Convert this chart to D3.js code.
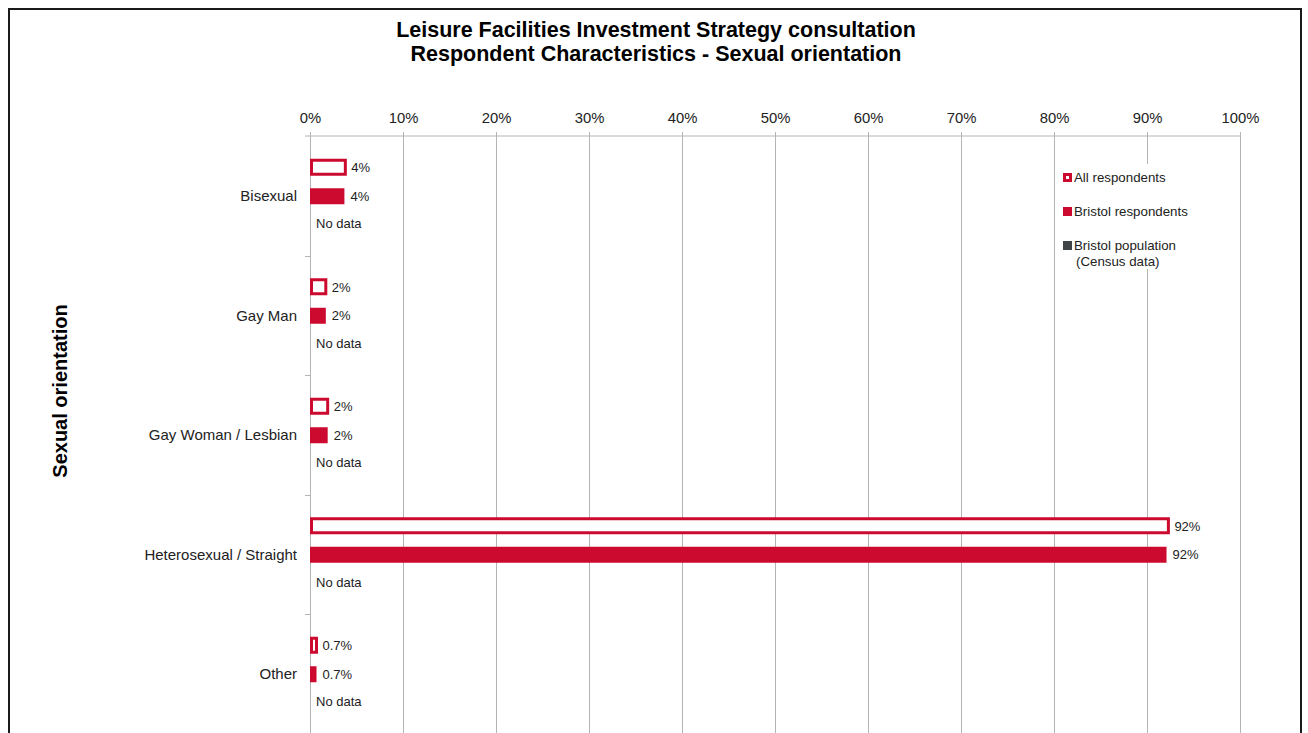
<!DOCTYPE html>
<html>
<head>
<meta charset="utf-8">
<script src="https://cdn.jsdelivr.net/npm/d3@7"></script>
<style>
  body { margin: 0; background: #fff; }
  text { font-family: "Liberation Sans", Arial, sans-serif; }
</style>
</head>
<body>
<svg id="chart" width="1308" height="733"></svg>
<script>
const svg = d3.select('#chart');

// data
const categories = ['Bisexual', 'Gay Man', 'Gay Woman / Lesbian', 'Heterosexual / Straight', 'Other'];
const allRespondents = [3.8, 1.7, 1.9, 92.3, 0.7];
const bristolRespondents = [3.7, 1.7, 1.9, 92.1, 0.7];
const bristolPopulation = [null, null, null, null, null]; // no census data
const seriesNames = ['All respondents', 'Bristol respondents', 'Bristol population\n(Census data)'];
const xTicks = [0, 10, 20, 30, 40, 50, 60, 70, 80, 90, 100];

const red = '#cc0a2f';
const grey = '#404447';

const margin = { top: 136, left: 310, right: 68, bottom: 0 };
const innerWidth = 1240 - margin.left;
const innerHeight = 733.5 - margin.top;

// outer frame
svg.append('rect')
  .attr('x', 9).attr('y', 9)
  .attr('width', 1292).attr('height', 760)
  .attr('fill', 'none')
  .attr('stroke', '#1a1a1a')
  .attr('stroke-width', 2);

// titles
svg.append('text')
  .attr('x', 656).attr('y', 37)
  .attr('text-anchor', 'middle')
  .style('font-size', '21.5px').style('font-weight', 'bold')
  .text('Leisure Facilities Investment Strategy consultation');
svg.append('text')
  .attr('x', 656).attr('y', 61)
  .attr('text-anchor', 'middle')
  .style('font-size', '21.5px').style('font-weight', 'bold')
  .text('Respondent Characteristics - Sexual orientation');

svg.append('text')
  .attr('transform', 'translate(67,391) rotate(-90)')
  .attr('text-anchor', 'middle')
  .style('font-size', '20px').style('font-weight', 'bold')
  .text('Sexual orientation');

const g = svg.append('g')
  .attr('transform', `translate(${margin.left},${margin.top})`);

const xScale = d3.scaleLinear().domain([0, 100]).range([0, innerWidth]);
const yScale = d3.scaleBand().domain(categories).range([0, innerHeight]);
// three slots per category: all, bristol, population
const slot = d3.scaleBand().domain([0, 1, 2]).range([-42, 42]);

// grid + top axis
const xAxis = d3.axisTop(xScale)
  .tickValues(xTicks)
  .tickFormat(d => d + '%')
  .tickSize(-innerHeight - 4)
  .tickSizeOuter(0);

const xg = g.append('g')
  .attr('transform', 'translate(0,-4)')
  .call(xAxis);
xg.select('.domain').remove();
xg.selectAll('.tick line').attr('stroke', '#b4b4b4');
xg.selectAll('.tick text')
  .attr('y', -9)
  .attr('fill', '#222')
  .style('font-size', '14.8px');

// top horizontal line
g.append('line')
  .attr('x1', -5).attr('x2', innerWidth)
  .attr('y1', 0).attr('y2', 0)
  .attr('stroke', '#b4b4b4');

// left category ticks
g.selectAll('.cat-tick')
  .data(categories.slice(1))
  .join('line')
  .attr('class', 'cat-tick')
  .attr('x1', -5).attr('x2', 0)
  .attr('y1', d => Math.round(yScale(d)) + 0.5)
  .attr('y2', d => Math.round(yScale(d)) + 0.5)
  .attr('stroke', '#b4b4b4');

// category labels
g.selectAll('.cat-label')
  .data(categories)
  .join('text')
  .attr('class', 'cat-label')
  .attr('x', -13)
  .attr('y', d => yScale(d) + yScale.bandwidth() / 2)
  .attr('dy', '0.35em')
  .attr('text-anchor', 'end')
  .attr('fill', '#222')
  .style('font-size', '15px')
  .text(d => d);

const fmt = v => (v < 1 ? v.toFixed(1) : Math.round(v)) + '%';
const barH = 15;

const rows = categories.map((c, i) => ({
  cat: c, all: allRespondents[i], bristol: bristolRespondents[i], pop: bristolPopulation[i]
}));

const cat = g.selectAll('.cat')
  .data(rows)
  .join('g')
  .attr('class', 'cat')
  .attr('transform', d => `translate(0,${yScale(d.cat) + yScale.bandwidth() / 2})`);

// all respondents: outlined bar
cat.append('rect')
  .attr('x', 1.5)
  .attr('y', slot(0) + slot.bandwidth() / 2 - barH / 2)
  .attr('width', d => xScale(d.all) - 1.5)
  .attr('height', barH - 1)
  .attr('fill', '#fff')
  .attr('stroke', red)
  .attr('stroke-width', 3);

// bristol respondents: filled bar
cat.append('rect')
  .attr('x', 0)
  .attr('y', slot(1) + slot.bandwidth() / 2 - barH / 2)
  .attr('width', d => xScale(d.bristol))
  .attr('height', barH + 1)
  .attr('fill', red);

const valueLabel = (sel, x, y, txt) => sel.append('text')
  .attr('x', x)
  .attr('y', y)
  .attr('dy', '0.35em')
  .attr('fill', '#222')
  .style('font-size', '13px')
  .text(txt);

valueLabel(cat, d => xScale(d.all) + 6, slot(0) + slot.bandwidth() / 2, d => fmt(d.all));
valueLabel(cat, d => xScale(d.bristol) + 6, slot(1) + slot.bandwidth() / 2 + 0.5, d => fmt(d.bristol));
// population: no census data
valueLabel(cat, d => (d.pop == null ? 6 : xScale(d.pop) + 6), slot(2) + slot.bandwidth() / 2,
  d => (d.pop == null ? 'No data' : fmt(d.pop)));

// legend
const legend = svg.append('g').attr('transform', 'translate(1057,164)');
legend.append('rect')
  .attr('x', 0).attr('y', 0)
  .attr('width', 145).attr('height', 105)
  .attr('fill', '#fff');

const item = legend.selectAll('.item')
  .data(seriesNames)
  .join('g')
  .attr('class', 'item')
  .attr('transform', (d, i) => `translate(6,${13 + i * 34})`);

item.append('rect')
  .attr('x', 0).attr('y', -4)
  .attr('width', 9).attr('height', 9)
  .attr('fill', (d, i) => (i === 2 ? grey : red));
item.filter((d, i) => i === 0).append('rect')
  .attr('x', 3).attr('y', -1)
  .attr('width', 3).attr('height', 3)
  .attr('fill', '#fff');

item.append('text')
  .attr('x', 11)
  .attr('y', 0)
  .attr('fill', '#222')
  .style('font-size', '13.3px')
  .each(function(d) {
    const lines = d.split('\n');
    d3.select(this).selectAll('tspan')
      .data(lines)
      .join('tspan')
      .attr('x', (l, j) => (j === 0 ? 11 : 13))
      .attr('dy', (l, j) => (j === 0 ? '0.35em' : '1.2em'))
      .text(l => l);
  });
</script>
</body>
</html>
